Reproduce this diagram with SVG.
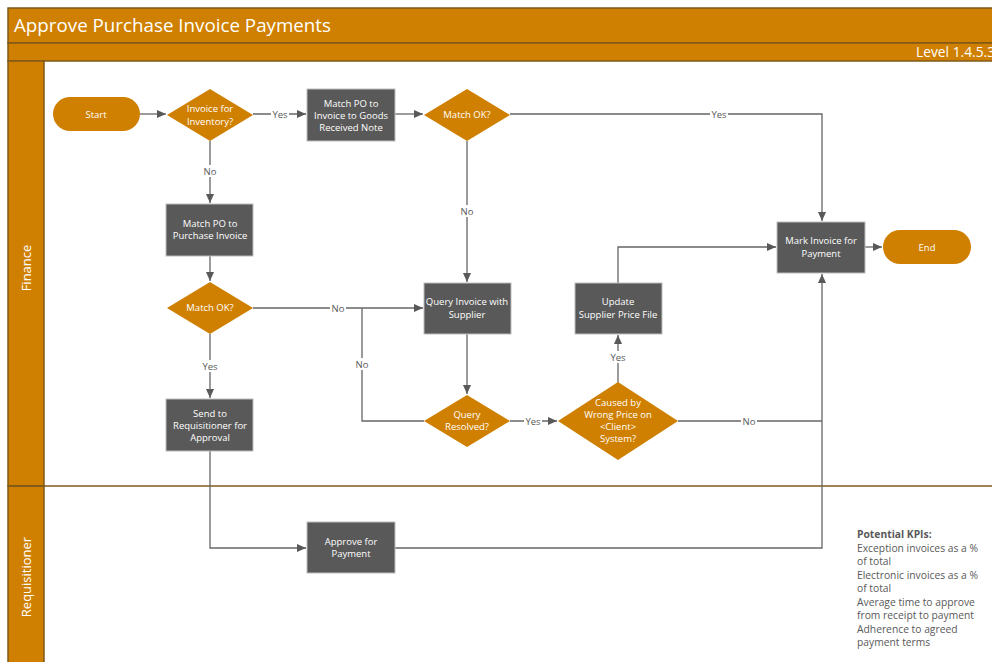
<svg xmlns="http://www.w3.org/2000/svg" width="992" height="662" viewBox="0 0 992 662">
<defs>
<marker id="ah" markerWidth="10" markerHeight="10" refX="9" refY="5" orient="auto" markerUnits="userSpaceOnUse">
<path d="M0,1 L9,5 L0,9 Z" fill="#595959"/>
</marker>
<style>
.hdr{fill:#D08000;stroke:#7F5A1A;stroke-width:1.5}
.proc{fill:#595959;stroke:#BDBDBD;stroke-width:1}
.dec{fill:#D08000}
.term{fill:#D08000}
.nt{font-family:"Open Sans","Noto Sans",sans-serif;font-size:9.5px;fill:#FFFFFF;text-anchor:middle;dominant-baseline:central}
.ln{fill:none;stroke:#666666;stroke-width:1.3}
.lbl{font-family:"Open Sans","Noto Sans",sans-serif;font-size:9.5px;fill:#595959;text-anchor:middle;dominant-baseline:central}
.lbg{fill:#FFFFFF}
.kpi{font-family:"Open Sans","Noto Sans",sans-serif;font-size:10.3px;fill:#595959}
</style>
</defs>
<rect width="992" height="662" fill="#FFFFFF"/>
<g id="frame">
<rect class="hdr" x="8" y="8" width="990" height="35"/>
<rect class="hdr" x="8" y="43" width="990" height="18"/>
<rect class="hdr" x="8" y="61" width="36" height="425"/>
<rect class="hdr" x="8" y="486" width="36" height="180"/>
<line x1="8" y1="486" x2="992" y2="486" stroke="#7F5A1A" stroke-width="1.3"/>
<text x="14" y="32" font-family="Open Sans,Noto Sans,sans-serif" font-size="19" fill="#FFFFFF" textLength="317" lengthAdjust="spacingAndGlyphs">Approve Purchase Invoice Payments</text>
<text x="916" y="57" font-family="Open Sans,Noto Sans,sans-serif" font-size="13.8" fill="#FFFFFF">Level 1.4.5.3</text>
<text transform="translate(31,268) rotate(-90)" text-anchor="middle" font-family="Open Sans,Noto Sans,sans-serif" font-size="13" fill="#FFFFFF">Finance</text>
<text transform="translate(31,577) rotate(-90)" text-anchor="middle" font-family="Open Sans,Noto Sans,sans-serif" font-size="13" fill="#FFFFFF">Requisitioner</text>
</g>
<g id="connectors">
<path class="ln" d="M140,114 H166" marker-end="url(#ah)"/>
<path class="ln" d="M253,114 H306" marker-end="url(#ah)"/>
<path class="ln" d="M395,114 H423" marker-end="url(#ah)"/>
<path class="ln" d="M510,114 H822 V221" marker-end="url(#ah)"/>
<path class="ln" d="M467,141 V282" marker-end="url(#ah)"/>
<path class="ln" d="M210,141 V203" marker-end="url(#ah)"/>
<path class="ln" d="M210,256 V281" marker-end="url(#ah)"/>
<path class="ln" d="M253,308 H423" marker-end="url(#ah)"/>
<path class="ln" d="M210,334 V398" marker-end="url(#ah)"/>
<path class="ln" d="M467,334 V394" marker-end="url(#ah)"/>
<path class="ln" d="M510,421 H557" marker-end="url(#ah)"/>
<path class="ln" d="M424,421 H362 V308"/>
<path class="ln" d="M618,383 V335" marker-end="url(#ah)"/>
<path class="ln" d="M618,283 V247 H776" marker-end="url(#ah)"/>
<path class="ln" d="M678,421 H822"/>
<path class="ln" d="M210,451 V548 H306" marker-end="url(#ah)"/>
<path class="ln" d="M395,548 H822 V274" marker-end="url(#ah)"/>
<path class="ln" d="M865,247 H882" marker-end="url(#ah)"/>
<rect class="lbg" x="271" y="108" width="18" height="12"/><text class="lbl" x="280" y="114">Yes</text>
<rect class="lbg" x="710" y="108" width="18" height="12"/><text class="lbl" x="719" y="114">Yes</text>
<rect class="lbg" x="459" y="205" width="16" height="12"/><text class="lbl" x="467" y="211">No</text>
<rect class="lbg" x="202" y="165" width="16" height="12"/><text class="lbl" x="210" y="171">No</text>
<rect class="lbg" x="330" y="302" width="16" height="12"/><text class="lbl" x="338" y="308">No</text>
<rect class="lbg" x="201" y="360" width="18" height="12"/><text class="lbl" x="210" y="366">Yes</text>
<rect class="lbg" x="524" y="415" width="18" height="12"/><text class="lbl" x="533" y="421">Yes</text>
<rect class="lbg" x="354" y="358" width="16" height="12"/><text class="lbl" x="362" y="364">No</text>
<rect class="lbg" x="609" y="351" width="18" height="12"/><text class="lbl" x="618" y="357">Yes</text>
<rect class="lbg" x="741" y="415" width="16" height="12"/><text class="lbl" x="749" y="421">No</text>
</g>
<g id="start">
<rect class="term" x="53" y="97" width="87" height="34" rx="17"/>
<text class="nt" x="96" y="114">Start</text>
</g>
<g id="invoice-for-inventory">
<polygon class="dec" points="210,89 253,115 210,141 167,115"/>
<text class="nt" x="210" y="108">Invoice for</text>
<text class="nt" x="210" y="121">Inventory?</text>
</g>
<g id="match-po-grn">
<rect class="proc" x="307" y="89" width="88" height="52"/>
<text class="nt" x="351" y="103">Match PO to</text>
<text class="nt" x="351" y="115">Invoice to Goods</text>
<text class="nt" x="351" y="127">Received Note</text>
</g>
<g id="match-ok-1">
<polygon class="dec" points="467,89 510,115 467,141 424,115"/>
<text class="nt" x="467" y="114">Match OK?</text>
</g>
<g id="match-po-invoice">
<rect class="proc" x="166" y="204" width="87" height="52"/>
<text class="nt" x="210" y="223">Match PO to</text>
<text class="nt" x="210" y="235">Purchase Invoice</text>
</g>
<g id="match-ok-2">
<polygon class="dec" points="210,282 253,308 210,334 167,308"/>
<text class="nt" x="210" y="307">Match OK?</text>
</g>
<g id="query-invoice">
<rect class="proc" x="424" y="283" width="87" height="51"/>
<text class="nt" x="467" y="301.5">Query Invoice with</text>
<text class="nt" x="467" y="314">Supplier</text>
</g>
<g id="update-price-file">
<rect class="proc" x="575" y="283" width="87" height="51"/>
<text class="nt" x="618" y="301.5">Update</text>
<text class="nt" x="618" y="314">Supplier Price File</text>
</g>
<g id="send-to-requisitioner">
<rect class="proc" x="166" y="399" width="87" height="52"/>
<text class="nt" x="210" y="413">Send to</text>
<text class="nt" x="210" y="425">Requisitioner for</text>
<text class="nt" x="210" y="437">Approval</text>
</g>
<g id="query-resolved">
<polygon class="dec" points="467,395 510,421 467,447 424,421"/>
<text class="nt" x="467" y="414">Query</text>
<text class="nt" x="467" y="426">Resolved?</text>
</g>
<g id="caused-by-wrong-price">
<polygon class="dec" points="618,382 678,421 618,460 558,421"/>
<text class="nt" x="618" y="402">Caused by</text>
<text class="nt" x="618" y="414">Wrong Price on</text>
<text class="nt" x="618" y="426">&lt;Client&gt;</text>
<text class="nt" x="618" y="438">System?</text>
</g>
<g id="mark-invoice">
<rect class="proc" x="777" y="222" width="88" height="51"/>
<text class="nt" x="821" y="240">Mark Invoice for</text>
<text class="nt" x="821" y="253">Payment</text>
</g>
<g id="end">
<rect class="term" x="883" y="230" width="88" height="34" rx="17"/>
<text class="nt" x="927" y="247">End</text>
</g>
<g id="approve-for-payment">
<rect class="proc" x="307" y="522" width="88" height="51"/>
<text class="nt" x="351" y="541">Approve for</text>
<text class="nt" x="351" y="553">Payment</text>
</g>
<g id="kpis">
<text class="kpi" x="857" y="538" font-weight="bold">Potential KPIs:</text>
<text class="kpi" x="857" y="551.5">Exception invoices as a %</text>
<text class="kpi" x="857" y="565">of total</text>
<text class="kpi" x="857" y="578.5">Electronic invoices as a %</text>
<text class="kpi" x="857" y="592">of total</text>
<text class="kpi" x="857" y="605.5">Average time to approve</text>
<text class="kpi" x="857" y="619">from receipt to payment</text>
<text class="kpi" x="857" y="632.5">Adherence to agreed</text>
<text class="kpi" x="857" y="646">payment terms</text>
</g>
</svg>
